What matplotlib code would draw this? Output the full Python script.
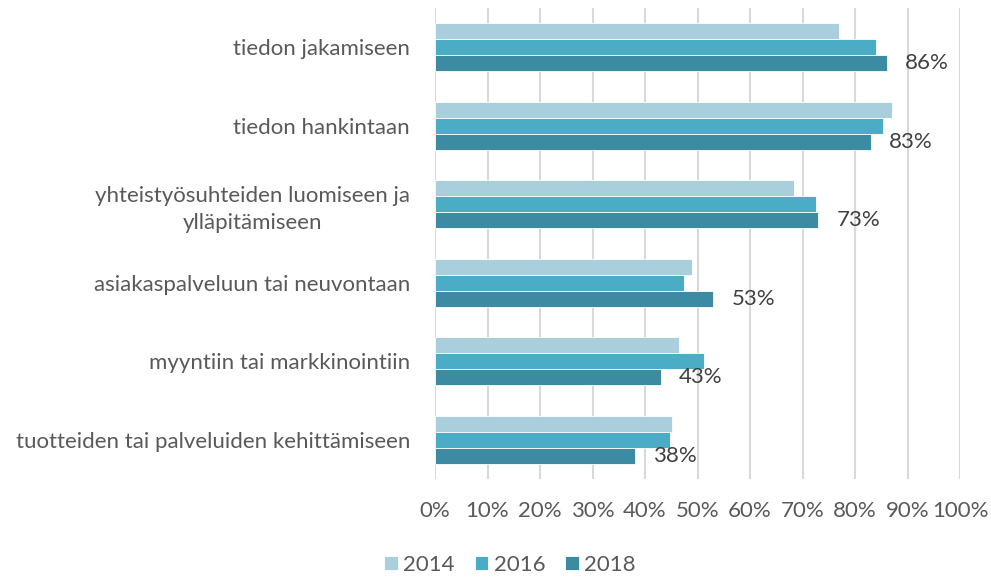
import matplotlib
matplotlib.use("Agg")
import matplotlib.pyplot as plt
import numpy as np

categories = [
    "tiedon jakamiseen",
    "tiedon hankintaan",
    "yhteistyösuhteiden luomiseen ja\nylläpitämiseen",
    "asiakaspalveluun tai neuvontaan",
    "myyntiin tai markkinointiin",
    "tuotteiden tai palveluiden kehittämiseen",
]
years = ["2014", "2016", "2018"]
v2014 = [77.0, 87.1, 68.3, 48.9, 46.5, 45.1]
v2016 = [84.0, 85.4, 72.6, 47.5, 51.3, 44.8]
v2018 = [86, 83, 73, 53, 43, 38]
xticks = [0, 10, 20, 30, 40, 50, 60, 70, 80, 90, 100]

colors = ["#A9CFDD", "#4BACC6", "#3D8BA3"]
text_color = "#595959"
label_color = "#404040"
fs = 16

plt.rcParams["font.family"] = ["Lato", "DejaVu Sans"]

fig = plt.figure(figsize=(9.91, 5.78), dpi=100)
ax = fig.add_axes([435 / 991, 1 - 479 / 578, 525 / 991, 471 / 578])

n = len(categories)
y = np.arange(n)
h = 0.205
series = [v2014, v2016, v2018]
for i, (vals, c, lab) in enumerate(zip(series, colors, years)):
    ax.barh(y + (i - 1) * h, vals, height=h, color=c, edgecolor="white",
            linewidth=0.6, label=lab, zorder=3)

# value labels for the latest year
for yi, v in zip(y, v2018):
    ax.annotate(f"{v}%", xy=(v, yi + h), xytext=(13, 0), textcoords="offset points",
                va="center", ha="left", fontsize=fs, color=label_color)

ax.set_xlim(0, 100)
ax.set_ylim(n - 0.5, -0.5)
ax.set_xticks(xticks)
ax.set_xticklabels([f"{t}%" for t in xticks], fontsize=fs, color=text_color)
ax.set_yticks(y)
ax.set_yticklabels(categories, fontsize=fs, color=text_color,
                   multialignment="center", linespacing=1.4)
ax.tick_params(axis="both", length=0)
ax.tick_params(axis="y", pad=18)
ax.tick_params(axis="x", pad=16)
ax.grid(axis="x", color="#D9D9D9", linewidth=1.5, zorder=0)
ax.set_axisbelow(True)
for s in ax.spines.values():
    s.set_visible(False)

leg = fig.legend(loc="center", bbox_to_anchor=(510 / 991, 1 - 565 / 578), ncol=3,
                 frameon=False, fontsize=fs, handlelength=0.6, handleheight=0.6,
                 handletextpad=0.25, columnspacing=0.9)
for t in leg.get_texts():
    t.set_color(text_color)

fig.savefig("out.png", dpi=100)
